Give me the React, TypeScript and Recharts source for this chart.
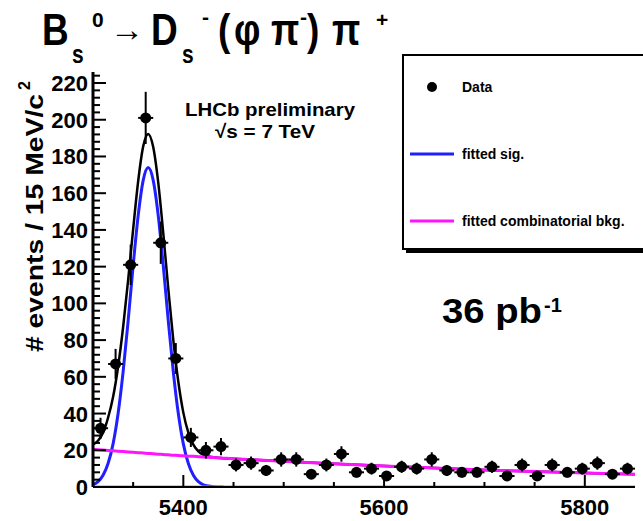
import React from 'react';
import { ComposedChart, ErrorBar, Legend, Line, Scatter, XAxis, YAxis } from 'recharts';

const FONT = "'Liberation Sans', Arial, Helvetica, sans-serif";
const BLUE = '#1f1fff';
const MAGENTA = '#ff14ff';
const ORANGE = '#e08e35';

// data histogram, 15 MeV bins between 5310 and 5850
const BIN_CENTERS = [
  5317.5, 5332.5, 5347.5, 5362.5, 5377.5, 5392.5, 5407.5, 5422.5, 5437.5, 5452.5, 5467.5, 5482.5,
  5497.5, 5512.5, 5527.5, 5542.5, 5557.5, 5572.5, 5587.5, 5602.5, 5617.5, 5632.5, 5647.5, 5662.5,
  5677.5, 5692.5, 5707.5, 5722.5, 5737.5, 5752.5, 5767.5, 5782.5, 5797.5, 5812.5, 5827.5, 5842.5,
];
const COUNTS = [
  32, 67, 121, 201, 133, 70, 27, 20, 22, 12, 13, 9,
  15, 15, 7, 12, 18, 8, 10, 6, 11, 10, 15, 9,
  8, 8, 11, 6, 12, 6, 12, 8, 10, 13, 7, 10,
];
const COUNT_ERRORS = [
  5.7, 8.2, 11, 14.2, 11.5, 8.4, 5.2, 4.5, 4.7, 3.5, 3.6, 3,
  3.9, 3.9, 2.6, 3.5, 4.2, 2.8, 3.2, 2.4, 3.3, 3.2, 3.9, 3,
  2.8, 2.8, 3.3, 2.4, 3.5, 2.4, 3.5, 2.8, 3.2, 3.6, 2.6, 3.2,
];
const BIN_HALF_WIDTH = 7.5;

// fitted curves
const CURVE_MASS = [
  5310, 5315, 5320, 5325, 5330, 5335, 5340, 5345, 5350, 5355, 5360, 5365, 5370, 5375, 5380, 5385,
  5390, 5395, 5400, 5405, 5410, 5415, 5420, 5425, 5430, 5440, 5450, 5500, 5550, 5600, 5650, 5700,
  5750, 5800, 5850,
];
const TOTAL_FIT = [
  23.2, 25.2, 29.5, 37.7, 49, 65.5, 87, 112.6, 140.4, 166.5, 185.5, 192.3, 185.1, 165.7, 138.2, 108,
  80, 57.3, 40.5, 29.6, 23.1, 19.4, 17.5, 16.6, 16.2, 15.7, 15.4, 14.0, 12.6, 11.4, 10.3, 9.3,
  8.4, 7.6, 6.9,
];
const BKG_FIT = [
  20.5, 20.3, 20.1, 19.9, 19.7, 19.5, 19.3, 19.1, 18.9, 18.7, 18.5, 18.3, 18.1, 17.9, 17.7, 17.5,
  17.3, 17.2, 17.0, 16.8, 16.7, 16.5, 16.3, 16.2, 16.0, 15.7, 15.4, 14.0, 12.6, 11.4, 10.3, 9.3,
  8.4, 7.6, 6.9,
];
const SIG_MASS = [
  5310, 5315, 5320, 5325, 5330, 5335, 5340, 5345, 5350, 5355, 5360, 5365, 5370, 5375, 5380, 5385,
  5390, 5395, 5400, 5405, 5410, 5415, 5420, 5425, 5430, 5440,
];
const SIG_FIT = [
  1.2, 2.9, 6.4, 12.8, 23.5, 40, 62.7, 90.5, 120.5, 147.8, 167, 174, 167, 147.8, 120.5, 90.5,
  62.7, 40, 23.5, 12.8, 6.4, 2.9, 1.2, 0.5, 0.2, 0,
];
const ZERO_MASS = [5310, 5850];
const ZERO_FIT = [0, 0];

const X_TICKS = [5350, 5400, 5450, 5500, 5550, 5600, 5650, 5700, 5750, 5800];
const Y_TICKS = Array.from({ length: 57 }, (_, i) => i * 4);

const LEGEND_ITEMS = [
  { label: 'Data', kind: 'marker', color: '#000' },
  { label: 'fitted sig.', kind: 'line', color: BLUE },
  { label: 'fitted combinatorial bkg.', kind: 'line', color: MAGENTA },
];

const toRows = (xs: number[], ys: number[]) => xs.map((m, i) => ({ m, v: ys[i] }));
const points = BIN_CENTERS.map((m, i) => ({ m, v: COUNTS[i], ey: COUNT_ERRORS[i], ex: BIN_HALF_WIDTH }));

function Txt({ x, y, size, sy = 1, anchor = 'start', weight = 'bold', len, children }: any) {
  return (
    <text
      transform={`translate(${x},${y}) scale(1,${sy})`}
      fontFamily={FONT}
      fontSize={size}
      fontWeight={weight}
      textAnchor={anchor}
      fill="#000"
      textLength={len}
      lengthAdjust={len ? 'spacingAndGlyphs' : undefined}
    >
      {children}
    </text>
  );
}

function BottomTick({ x, y, payload }: any) {
  const major = payload.value % 200 === 0;
  return (
    <g>
      <line x1={x} x2={x} y1={y} y2={y - (major ? 12 : 5)} stroke="#000" strokeWidth={2} />
      {major ? <Txt x={x} y={y + 28} size={22} anchor="middle">{payload.value}</Txt> : null}
    </g>
  );
}

function TopTick({ x, y, payload }: any) {
  const major = payload.value % 200 === 0;
  return <line x1={x} x2={x} y1={y} y2={y + (major ? 12 : 5)} stroke="#000" strokeWidth={2} />;
}

function LeftTick({ x, y, payload }: any) {
  const major = payload.value % 20 === 0;
  return (
    <g>
      <line x1={x} x2={x + (major ? 13 : 7)} y1={y} y2={y} stroke="#000" strokeWidth={2} />
      {major ? <Txt x={x - 5} y={y + 8} size={22} anchor="end">{payload.value}</Txt> : null}
    </g>
  );
}

function RightTick({ x, y, payload }: any) {
  const major = payload.value % 20 === 0;
  return <line x1={x} x2={x - (major ? 13 : 7)} y1={y} y2={y} stroke="#000" strokeWidth={2} />;
}

function DataDot({ cx, cy }: any) {
  return <circle cx={cx} cy={cy} r={5.5} fill="#000" />;
}

function LegendBox() {
  return (
    <svg width={290} height={202} style={{ display: 'block' }}>
      <rect x={4} y={5} width={284} height={194} fill="#000" />
      <rect x={1} y={1} width={284} height={194} fill="#fff" stroke="#000" strokeWidth={2} />
      {LEGEND_ITEMS.map((it, i) => {
        const cy = 33 + i * 67;
        return (
          <g key={it.label}>
            {it.kind === 'marker' ? (
              <circle cx={30} cy={cy} r={5} fill={it.color} />
            ) : (
              <line x1={8} x2={52} y1={cy} y2={cy} stroke={it.color} strokeWidth={3} />
            )}
            <Txt x={60} y={cy + 5} size={14}>{it.label}</Txt>
          </g>
        );
      })}
    </svg>
  );
}

export default function App() {
  return (
    <div style={{ position: 'absolute', left: 0, top: 0, width: 643, height: 521, overflow: 'hidden', background: '#fff' }}>
      <ComposedChart width={643} height={521} margin={{ top: 72, right: 8, bottom: 0, left: 63 }}>
        <XAxis
          xAxisId="b"
          type="number"
          dataKey="m"
          domain={[5310, 5850]}
          allowDataOverflow
          ticks={X_TICKS}
          interval={0}
          height={34}
          tickSize={0}
          tickMargin={0}
          tickLine={false}
          tick={(p: any) => <BottomTick {...p} />}
          axisLine={{ stroke: '#000', strokeWidth: 2 }}
        />
        <XAxis
          xAxisId="t"
          orientation="top"
          type="number"
          dataKey="m"
          domain={[5310, 5850]}
          allowDataOverflow
          ticks={X_TICKS}
          interval={0}
          height={0}
          tickSize={0}
          tickMargin={0}
          tickLine={false}
          tick={(p: any) => <TopTick {...p} />}
          axisLine={{ stroke: '#000', strokeWidth: 2 }}
        />
        <YAxis
          yAxisId="l"
          type="number"
          dataKey="v"
          domain={[0, 226]}
          allowDataOverflow
          ticks={Y_TICKS}
          interval={0}
          width={30}
          tickSize={0}
          tickMargin={0}
          tickLine={false}
          tick={(p: any) => <LeftTick {...p} />}
          axisLine={{ stroke: '#000', strokeWidth: 3 }}
        />
        <YAxis
          yAxisId="r"
          orientation="right"
          type="number"
          dataKey="v"
          domain={[0, 226]}
          allowDataOverflow
          ticks={Y_TICKS}
          interval={0}
          width={0}
          tickSize={0}
          tickMargin={0}
          tickLine={false}
          tick={(p: any) => <RightTick {...p} />}
          axisLine={{ stroke: '#000', strokeWidth: 2 }}
        />
        <Line xAxisId="b" yAxisId="l" data={toRows(CURVE_MASS, TOTAL_FIT)} dataKey="v" type="monotone" stroke="#000" strokeWidth={2.5} dot={false} isAnimationActive={false} />
        <Line xAxisId="b" yAxisId="l" data={toRows(SIG_MASS, SIG_FIT)} dataKey="v" type="monotone" stroke={BLUE} strokeWidth={3} dot={false} isAnimationActive={false} />
        <Line xAxisId="b" yAxisId="l" data={toRows(CURVE_MASS, BKG_FIT)} dataKey="v" type="monotone" stroke={MAGENTA} strokeWidth={3} dot={false} isAnimationActive={false} />
        <Line xAxisId="b" yAxisId="l" data={toRows(ZERO_MASS, ZERO_FIT)} dataKey="v" type="linear" stroke={ORANGE} strokeWidth={3} dot={false} isAnimationActive={false} />
        <Scatter xAxisId="b" yAxisId="l" data={points} dataKey="v" shape={(p: any) => <DataDot {...p} />} isAnimationActive={false}>
          <ErrorBar dataKey="ey" direction="y" width={0} stroke="#000" strokeWidth={2} />
          <ErrorBar dataKey="ex" direction="x" width={0} stroke="#000" strokeWidth={2} />
        </Scatter>
        <Legend
          layout="vertical"
          align="center"
          verticalAlign="middle"
          content={() => <LegendBox />}
          wrapperStyle={{ left: 402, top: 54, width: 290, height: 202 }}
        />
      </ComposedChart>
      <svg width={643} height={521} style={{ position: 'absolute', left: 0, top: 0, pointerEvents: 'none' }}>
        <Txt x={42} y={45} size={37} sy={1.2}>B</Txt>
        <Txt x={72} y={63} size={21} sy={1.2}>s</Txt>
        <Txt x={92} y={27} size={21}>0</Txt>
        <Txt x={110} y={41} size={34}>→</Txt>
        <Txt x={151} y={45} size={37} sy={1.2}>D</Txt>
        <Txt x={182} y={63} size={21} sy={1.2}>s</Txt>
        <Txt x={202} y={24} size={21}>-</Txt>
        <Txt x={218} y={45} size={37} sy={1.2}>(</Txt>
        <Txt x={234} y={45} size={37} sy={1.2}>φ</Txt>
        <Txt x={271} y={45} size={37} sy={1.2}>π</Txt>
        <Txt x={300} y={24} size={21}>-</Txt>
        <Txt x={307} y={45} size={37} sy={1.2}>)</Txt>
        <Txt x={332} y={45} size={37} sy={1.2}>π</Txt>
        <Txt x={376} y={27} size={21}>+</Txt>

        <text transform="translate(43,352) rotate(-90)" fontFamily={FONT} fontSize={24} fontWeight="bold" textLength={258} lengthAdjust="spacingAndGlyphs">
          # events / 15 MeV/c
        </text>
        <text transform="translate(30,90) rotate(-90)" fontFamily={FONT} fontSize={16} fontWeight="bold">2</text>

        <Txt x={270} y={116} size={19} anchor="middle" len={170}>LHCb preliminary</Txt>
        <Txt x={215} y={138} size={19} len={100}>√s = 7 TeV</Txt>
        <Txt x={442} y={323} size={35} len={100}>36 pb</Txt>
        <Txt x={544} y={312} size={20}>-1</Txt>
      </svg>
    </div>
  );
}
